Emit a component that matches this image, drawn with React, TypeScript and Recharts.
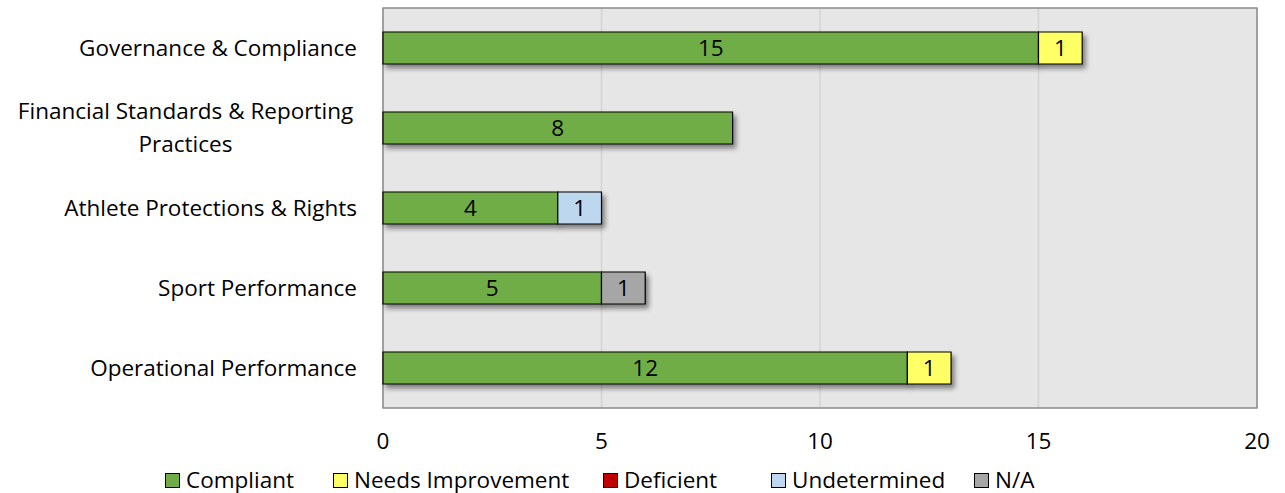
import React from "react";
import { BarChart, Bar, XAxis, YAxis, CartesianGrid, Legend, LabelList, ReferenceArea } from "recharts";

const categories = [
  "Governance & Compliance",
  "Financial Standards & Reporting Practices",
  "Athlete Protections & Rights",
  "Sport Performance",
  "Operational Performance",
];
const compliant = [15, 8, 4, 5, 12];
const needsImprovement = [1, 0, 0, 0, 1];
const deficient = [0, 0, 0, 0, 0];
const undetermined = [0, 0, 1, 0, 0];
const notApplicable = [0, 0, 0, 1, 0];
const xTicks = [0, 5, 10, 15, 20];

const series = [
  { key: "compliant", name: "Compliant", color: "#70ad47", values: compliant },
  { key: "needs", name: "Needs Improvement", color: "#ffff66", values: needsImprovement },
  { key: "deficient", name: "Deficient", color: "#c00000", values: deficient },
  { key: "undetermined", name: "Undetermined", color: "#bdd7ee", values: undetermined },
  { key: "na", name: "N/A", color: "#a6a6a6", values: notApplicable },
];

// legend slot widths so the entries sit where the original's do
const legendSlots = [168, 270, 168, 203, 80];

const data = categories.map((name, i) => {
  const row: Record<string, any> = { name };
  series.forEach((s) => {
    row[s.key] = s.values[i] === 0 ? null : s.values[i];
  });
  return row;
});

const FONT = "'Open Sans', Lato, sans-serif";
const FS = 22.5;

function wrap(text: string, max: number) {
  const words = text.split(" ");
  const lines: string[] = [];
  let cur = "";
  words.forEach((w) => {
    const next = cur ? cur + " " + w : w;
    if (next.length > max && cur) {
      lines.push(cur);
      cur = w;
    } else {
      cur = next;
    }
  });
  if (cur) lines.push(cur);
  return lines;
}

const CategoryTick = (props: any) => {
  const { x, y, payload } = props;
  const lines = wrap(payload.value, 31);
  const lh = 33;
  const start = -((lines.length - 1) * lh) / 2;
  if (lines.length === 1) {
    return (
      <text x={x} y={y} dy="0.35em" textAnchor="end" fontSize={FS} fill="#000" fontFamily={FONT}>
        {lines[0]}
      </text>
    );
  }
  // multi-line labels are centred on the widest line, right edge at the axis
  const widest = 343;
  return (
    <g>
      {lines.map((l, i) => (
        <text key={i} x={x - widest / 2} y={y + start + i * lh} dy="0.35em" textAnchor="middle" fontSize={FS} fill="#000" fontFamily={FONT}>
          {l}
        </text>
      ))}
    </g>
  );
};

const LegendContent = () => (
  <div style={{ display: "flex", paddingLeft: 165, paddingTop: 22, fontFamily: FONT, fontSize: FS, lineHeight: "24px", color: "#000", alignItems: "center" }}>
    {series.map((s, i) => (
      <div key={s.key} style={{ display: "flex", alignItems: "center", width: legendSlots[i], whiteSpace: "nowrap" }}>
        <span style={{ width: 13, height: 13, background: s.color, border: "1px solid #000", marginRight: 6, display: "inline-block" }} />
        <span>{s.name}</span>
      </div>
    ))}
  </div>
);

const hideZero = (v: any) => (v ? v : "");

export default function App() {
  return (
    <div style={{ position: "absolute", left: 0, top: 0, width: 1285, height: 493, background: "#fff" }}>
      <BarChart
        width={1285}
        height={493}
        data={data}
        layout="vertical"
        barSize={32}
        margin={{ top: 8, right: 28, bottom: 0, left: 0 }}
      >
        <defs>
          <filter id="barShadow" x="-10%" y="-30%" width="130%" height="200%">
            <feDropShadow dx="3" dy="4" stdDeviation="2.5" floodColor="#000" floodOpacity="0.45" />
          </filter>
        </defs>
        <CartesianGrid horizontal={false} fill="#e6e6e6" stroke="#d4d4d4" strokeWidth={1.5} />
        <XAxis
          type="number"
          domain={[0, 20]}
          ticks={xTicks}
          height={38}
          tickLine={false}
          axisLine={false}
          tickSize={0}
          tickMargin={25}
          tick={{ fontSize: FS, fill: "#000", fontFamily: FONT }}
          interval={0}
        />
        <YAxis
          type="category"
          dataKey="name"
          width={383}
          tickLine={false}
          axisLine={false}
          tickSize={0}
          tickMargin={26}
          tick={<CategoryTick />}
          interval={0}
        />
        <ReferenceArea x1={0} x2={20} fill="none" stroke="#8c8c8c" strokeWidth={1.5} ifOverflow="extendDomain" />
        {series.map((s) => (
          <Bar
            key={s.key}
            dataKey={s.key}
            name={s.name}
            stackId="a"
            fill={s.color}
            stroke="#000"
            strokeWidth={1.2}
            filter="url(#barShadow)"
            isAnimationActive={false}
          >
            <LabelList dataKey={s.key} position="center" formatter={hideZero} fill="#000" fontSize={FS} fontFamily={FONT} />
          </Bar>
        ))}
        <Legend verticalAlign="bottom" height={47} content={<LegendContent />} />
      </BarChart>
    </div>
  );
}
